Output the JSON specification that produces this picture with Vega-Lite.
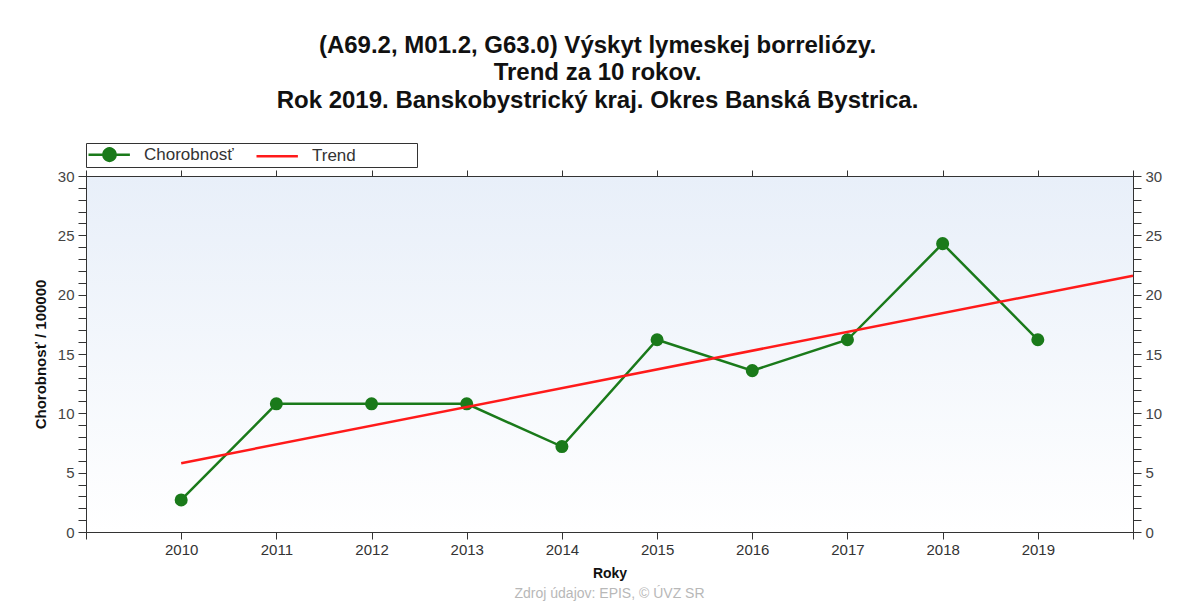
{
  "$schema": "https://vega.github.io/schema/vega-lite/v6.json",
  "background": "white",
  "padding": {"left": 32, "top": 33, "right": 5, "bottom": 0},
  "title": {
    "text": [
      "(A69.2, M01.2, G63.0) Výskyt lymeskej borreliózy.",
      "Trend za 10 rokov.",
      "Rok 2019. Banskobystrický kraj. Okres Banská Bystrica."
    ],
    "anchor": "middle",
    "frame": "bounds",
    "font": "Liberation Sans",
    "fontSize": 24,
    "fontWeight": "bold",
    "color": "#111111",
    "lineHeight": 27.5,
    "offset": 30
  },
  "data": {
    "values": [
      {"rok": 2010, "hodnota": 2.7, "seria": "Chorobnosť"},
      {"rok": 2011, "hodnota": 10.8, "seria": "Chorobnosť"},
      {"rok": 2012, "hodnota": 10.8, "seria": "Chorobnosť"},
      {"rok": 2013, "hodnota": 10.8, "seria": "Chorobnosť"},
      {"rok": 2014, "hodnota": 7.2, "seria": "Chorobnosť"},
      {"rok": 2015, "hodnota": 16.2, "seria": "Chorobnosť"},
      {"rok": 2016, "hodnota": 13.6, "seria": "Chorobnosť"},
      {"rok": 2017, "hodnota": 16.2, "seria": "Chorobnosť"},
      {"rok": 2018, "hodnota": 24.3, "seria": "Chorobnosť"},
      {"rok": 2019, "hodnota": 16.2, "seria": "Chorobnosť"},
      {"rok": 2010, "hodnota": 5.8, "seria": "Trend"},
      {"rok": 2020, "hodnota": 21.6, "seria": "Trend"}
    ]
  },
  "vconcat": [
    {
      "title": {
        "text": "Zdroj údajov: EPIS, © ÚVZ SR",
        "orient": "bottom",
        "anchor": "middle",
        "frame": "group",
        "fontSize": 14,
        "fontWeight": "normal",
        "color": "#b8b8b8",
        "font": "Liberation Sans",
        "offset": 7
      },
      "width": 1047,
      "height": 356,
      "layer": [
        {
          "transform": [{"filter": "datum.seria === 'Chorobnosť'"}],
          "mark": {
            "type": "line",
            "strokeWidth": 2.5,
            "point": {"filled": true, "size": 170, "opacity": 1}
          },
          "encoding": {
            "x": {
              "field": "rok",
              "type": "quantitative",
              "scale": {"domain": [2009, 2020], "nice": false, "zero": false},
              "axis": {
                "orient": "bottom",
                "values": [2009, 2010, 2011, 2012, 2013, 2014, 2015, 2016, 2017, 2018, 2019, 2020],
                "format": "d",
                "labelExpr": "datum.value === 2009 || datum.value === 2020 ? '' : datum.label",
                "labelOverlap": false,
                "labelFlush": false,
                "tickSize": 7,
                "labelPadding": 3,
                "labelFontSize": 15,
                "labelColor": "#333333",
                "title": "Roky",
                "titleFontSize": 14,
                "titleFontWeight": "bold",
                "titleColor": "#111111",
                "titlePadding": 9,
                "grid": false,
                "encode": {"ticks": {"update": {"y": {"value": -3}}}}
              }
            },
            "y": {
              "field": "hodnota",
              "type": "quantitative",
              "scale": {"domain": [0, 30], "nice": false},
              "axis": {
                "orient": "left",
                "values": [0,1,2,3,4,5,6,7,8,9,10,11,12,13,14,15,16,17,18,19,20,21,22,23,24,25,26,27,28,29,30],
                "labelExpr": "datum.value % 5 === 0 ? datum.label : ''",
                "labelOverlap": false,
                "labelFlush": false,
                "tickSize": 8,
                "labelPadding": 4,
                "labelFontSize": 15,
                "labelColor": "#444444",
                "title": "Chorobnosť / 100000",
                "titleFontSize": 15,
                "titleFontWeight": "bold",
                "titleColor": "#111111",
                "titlePadding": 9,
                "grid": false,
                "encode": {
                  "ticks": {
                    "update": {
                      "x": {"signal": "datum.value % 5 === 0 ? 8 : 4"},
                      "x2": {"signal": "datum.value % 5 === 0 ? -8 : -4"}
                    }
                  }
                }
              }
            },
            "color": {
              "field": "seria",
              "type": "nominal",
              "scale": {"domain": ["Chorobnosť", "Trend"], "range": ["#1a7a1a", "#ff1a1a"]},
              "legend": {
                "orient": "top",
                "direction": "horizontal",
                "title": "\u00a0",
                "titleOrient": "right",
                "titleFontSize": 1,
                "titlePadding": 60,
                "columns": 2,
                "columnPadding": 17,
                "symbolSize": 324,
                "symbolType": "stroke",
                "symbolStrokeWidth": 2.5,
                "labelFontSize": 17,
                "labelColor": "#333333",
                "labelFont": "Liberation Sans",
                "labelOffset": 36,
                "strokeColor": "#333333",
                "padding": 1,
                "offset": 1,
                "encode": {
                  "symbols": {
                    "update": {
                      "shape": {"signal": "datum.value === 'Chorobnosť' ? 'M-1,0L3.6,0M0.667,0A0.667,0.667 0 1,0 2,0A0.667,0.667 0 1,0 0.667,0' : 'M-1,0L3.6,0'"},
                      "fill": {"signal": "datum.value === 'Chorobnosť' ? '#1a7a1a' : 'transparent'"},
                      "stroke": {"signal": "datum.value === 'Chorobnosť' ? '#1a7a1a' : '#ff1a1a'"},
                      "strokeWidth": {"value": 2.5}
                    }
                  }
                }
              }
            }
          }
        },
        {
          "transform": [{"filter": "datum.seria === 'Trend'"}],
          "mark": {"type": "line", "strokeWidth": 2.5},
          "encoding": {
            "x": {
              "field": "rok",
              "type": "quantitative",
              "axis": {
                "orient": "top",
                "values": [2009, 2010, 2011, 2012, 2013, 2014, 2015, 2016, 2017, 2018, 2019, 2020],
                "labels": false,
                "title": null,
                "tickSize": 6,
                "grid": false,
                "encode": {"ticks": {"update": {"y": {"value": -2}, "y2": {"value": 6}}}}
              }
            },
            "y": {
              "field": "hodnota",
              "type": "quantitative",
              "axis": {
                "orient": "right",
                "values": [0,1,2,3,4,5,6,7,8,9,10,11,12,13,14,15,16,17,18,19,20,21,22,23,24,25,26,27,28,29,30],
                "labelExpr": "datum.value % 5 === 0 ? datum.label : ''",
                "labelOverlap": false,
                "labelFlush": false,
                "tickSize": 8,
                "labelPadding": 4,
                "labelFontSize": 15,
                "labelColor": "#444444",
                "title": null,
                "grid": false,
                "encode": {
                  "ticks": {
                    "update": {
                      "x": {"signal": "datum.value % 5 === 0 ? -8 : -4"},
                      "x2": {"signal": "datum.value % 5 === 0 ? 8 : 4"}
                    }
                  }
                }
              }
            },
            "color": {"field": "seria", "type": "nominal"}
          }
        }
      ],
      "resolve": {"axis": {"x": "independent", "y": "independent"}}
    }
  ],
  "config": {
    "font": "Liberation Sans",
    "view": {
      "stroke": "#444444",
      "fill": {
        "gradient": "linear",
        "x1": 0, "y1": 0, "x2": 0, "y2": 1,
        "stops": [{"offset": 0, "color": "#e8eff9"}, {"offset": 1, "color": "#ffffff"}]
      }
    },
    "axis": {
      "domainColor": "#333333",
      "tickColor": "#333333",
      "labelFont": "Liberation Sans",
      "titleFont": "Liberation Sans"
    }
  }
}
